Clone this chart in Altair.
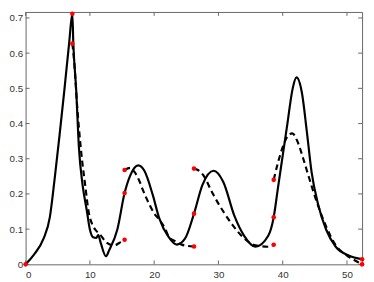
import altair as alt
import pandas as pd

# Solid curve
solid_x = [0, 1.27, 2.77, 3.78, 4.53, 5.3, 6.03, 6.78, 7.27, 7.42, 7.87, 8.3, 8.87,
           9.52, 10.0, 10.5, 11.0, 11.3, 11.7, 12.5, 13.0, 14.27, 15.4, 16.27, 17.52, 18.5,
           19.77, 20.77, 22.27, 23.5, 24.77, 26.2, 27.5, 29.26, 30.76, 32.5, 34.0, 35.76,
           37.75, 38.6, 39.25, 40.0, 40.75, 41.5, 42.15, 43.0, 43.75, 44.5, 45.5, 46.75,
           48.25, 50.25, 52.35]
solid_y = [0, 0.027, 0.072, 0.135, 0.245, 0.37, 0.495, 0.63, 0.712, 0.63, 0.495, 0.33, 0.225,
           0.153, 0.099, 0.077, 0.075, 0.083, 0.06, 0.023, 0.04, 0.099, 0.2024, 0.252, 0.281, 0.265,
           0.198, 0.132, 0.077, 0.056, 0.072, 0.144, 0.225, 0.266, 0.234, 0.137, 0.081, 0.050,
           0.081, 0.134, 0.216, 0.309, 0.402, 0.495, 0.531, 0.486, 0.378, 0.261, 0.171, 0.099,
           0.05, 0.025, 0.0145]

# Dashed curve, four pieces
dash_x1 = [7.27, 7.52, 8.02, 8.67, 9.27, 9.77, 10.52, 11.0, 11.52, 12.52, 13.76, 14.77, 15.4]
dash_y1 = [0.627, 0.585, 0.45, 0.315, 0.225, 0.153, 0.108, 0.095, 0.086, 0.063, 0.054, 0.063, 0.070]
dash_x2 = [15.4, 16.27, 17.0, 17.77, 18.27, 19.27, 20.0, 20.77, 21.77, 22.27, 23.27, 24.27, 26.2]
dash_y2 = [0.268, 0.274, 0.261, 0.234, 0.21, 0.17, 0.145, 0.128, 0.099, 0.078, 0.066, 0.056, 0.0505]
dash_x3 = [26.2, 26.8, 27.77, 28.76, 29.27, 30.76, 32.27, 33.76, 35.76, 37.75, 38.6]
dash_y3 = [0.272, 0.268, 0.25, 0.214, 0.196, 0.15, 0.11, 0.078, 0.054, 0.05, 0.0558]
dash_x4 = [38.6, 39.25, 40.0, 41.0, 41.5, 42.25, 43.25, 44.0, 45.25, 46.75, 48.25, 50.0, 51.25, 52.35]
dash_y4 = [0.240, 0.288, 0.333, 0.369, 0.372, 0.351, 0.297, 0.252, 0.18, 0.108, 0.054, 0.025, 0.011, 0.0]

# Red markers
pt_x = [0, 7.27, 7.27, 15.4, 15.4, 15.4, 26.2, 26.2, 26.2, 38.6, 38.6, 38.6, 52.35, 52.35]
pt_y = [0, 0.712, 0.627, 0.268, 0.2024, 0.070, 0.272, 0.144, 0.0505, 0.240, 0.134, 0.0558, 0.0145, 0.0]

x_ticks = [0, 10, 20, 30, 40, 50]
y_ticks = [0, 0.1, 0.2, 0.3, 0.4, 0.5, 0.6, 0.7]

W, H = 344, 258
XD = [0, 52.35]
YD = [0, 0.717]

solid_df = pd.DataFrame({"x": solid_x, "y": solid_y})
dash_df = pd.concat([
    pd.DataFrame({"x": dash_x1, "y": dash_y1, "seg": 1}),
    pd.DataFrame({"x": dash_x2, "y": dash_y2, "seg": 2}),
    pd.DataFrame({"x": dash_x3, "y": dash_y3, "seg": 3}),
    pd.DataFrame({"x": dash_x4, "y": dash_y4, "seg": 4}),
])
pt_df = pd.DataFrame({"x": pt_x, "y": pt_y})
xt_df = pd.DataFrame({"x": x_ticks})
yt_df = pd.DataFrame({"y": y_ticks})

X = alt.X("x:Q", scale=alt.Scale(domain=XD, nice=False, zero=False),
          axis=alt.Axis(values=x_ticks, title=None, format="d", domain=False, ticks=False,
                        grid=False, labelPadding=5))
Y = alt.Y("y:Q", scale=alt.Scale(domain=YD, nice=False, zero=False),
          axis=alt.Axis(values=y_ticks, title=None, format="~g", domain=False, ticks=False,
                        grid=False, labelPadding=3))

solid = alt.Chart(solid_df).mark_line(color="black", strokeWidth=2.2, interpolate="monotone").encode(x=X, y=Y)
dashed = alt.Chart(dash_df).mark_line(color="black", strokeWidth=2.2, strokeDash=[6, 4],
                                      interpolate="monotone").encode(x=X, y=Y, detail="seg:N")
points = alt.Chart(pt_df).mark_point(filled=True, color="red", size=22, opacity=1).encode(x=X, y=Y)

tick_color = "#666666"
bt = alt.Chart(xt_df).mark_rule(color=tick_color, strokeWidth=1).encode(
    x=X, y=alt.value(H), y2=alt.value(H - 4))
tt = alt.Chart(xt_df).mark_rule(color=tick_color, strokeWidth=1).encode(
    x=X, y=alt.value(0), y2=alt.value(4))
lt = alt.Chart(yt_df).mark_rule(color=tick_color, strokeWidth=1).encode(
    y=Y, x=alt.value(0), x2=alt.value(4))
rt = alt.Chart(yt_df).mark_rule(color=tick_color, strokeWidth=1).encode(
    y=Y, x=alt.value(W - 4), x2=alt.value(W))

chart = alt.layer(bt, tt, lt, rt, solid, dashed, points).properties(
    width=W, height=H,
    autosize=alt.AutoSizeParams(type="none"),
    padding={"left": 18, "top": 1, "right": 4, "bottom": 15},
).configure_view(
    stroke=tick_color, strokeWidth=1
).configure_axis(
    labelFont="Liberation Sans", labelFontSize=10, labelColor="#333333"
)

chart.save("out.html", embed_options={"renderer": "svg", "actions": False})
